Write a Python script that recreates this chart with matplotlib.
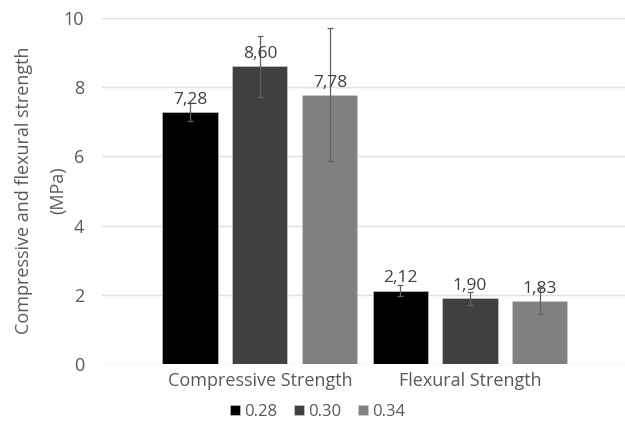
import numpy as np
import matplotlib.pyplot as plt

categories = ["Compressive Strength", "Flexural Strength"]
series = ["0.28", "0.30", "0.34"]
values = {
    "0.28": [7.28, 2.12],
    "0.30": [8.60, 1.90],
    "0.34": [7.78, 1.83],
}
errors = {
    "0.28": [0.25, 0.16],
    "0.30": [0.87, 0.19],
    "0.34": [1.92, 0.38],
}
ylabel_lines = ["Compressive and flexural strength", "(MPa)"]
colors = ["#000000", "#404040", "#808080"]
text_color = "#595959"

plt.rcParams["font.family"] = ["Open Sans", "DejaVu Sans"]

fig = plt.figure(figsize=(6.25, 4.25), dpi=100)
ax = fig.add_axes([102 / 625, 61 / 425, 523 / 625, 346 / 425])

x = np.arange(len(categories))
step = 0.333
width = 0.262
for i, (s, c) in enumerate(zip(series, colors)):
    pos = x + (i - 1) * step
    ax.bar(pos, values[s], width, color=c, label=s, zorder=2,
           edgecolor="#d0d0d0", linewidth=0.4)
    ax.errorbar(pos, values[s], yerr=errors[s], fmt="none",
                ecolor="#606060", elinewidth=0.9, capsize=2.5,
                capthick=0.9, zorder=3)
    for p, v in zip(pos, values[s]):
        ax.text(p, v + 0.12, f"{v:.2f}".replace(".", ","), ha="center",
                va="bottom", fontsize=12.5, color="#404040", zorder=4)

ax.set_xlim(-0.752, 1.738)
ax.set_ylim(0, 10)
ax.set_yticks(range(0, 11, 2))
ax.yaxis.grid(True, color="#e0e0e0", linewidth=1, zorder=0)
ax.set_axisbelow(True)
for sp in ax.spines.values():
    sp.set_visible(False)
ax.tick_params(axis="both", length=0, colors=text_color, labelsize=13)
ax.tick_params(axis="y", pad=13)
ax.set_xticks(x)
ax.set_xticklabels(categories, fontsize=13)
ax.tick_params(axis="x", pad=6)

# y label: two centred lines
for xp, line in zip([24, 58], ylabel_lines):
    fig.text(xp / 625, 1 - 190 / 425, line, rotation=90, ha="center",
             va="center", fontsize=13, color=text_color)

leg = fig.legend(loc="center", bbox_to_anchor=(318 / 625, 1 - 412 / 425),
                 ncol=3, frameon=False, fontsize=12, handlelength=0.6,
                 handleheight=0.6, handletextpad=0.25, columnspacing=1.0)
for t in leg.get_texts():
    t.set_color(text_color)

fig.savefig("out.png", dpi=100)
